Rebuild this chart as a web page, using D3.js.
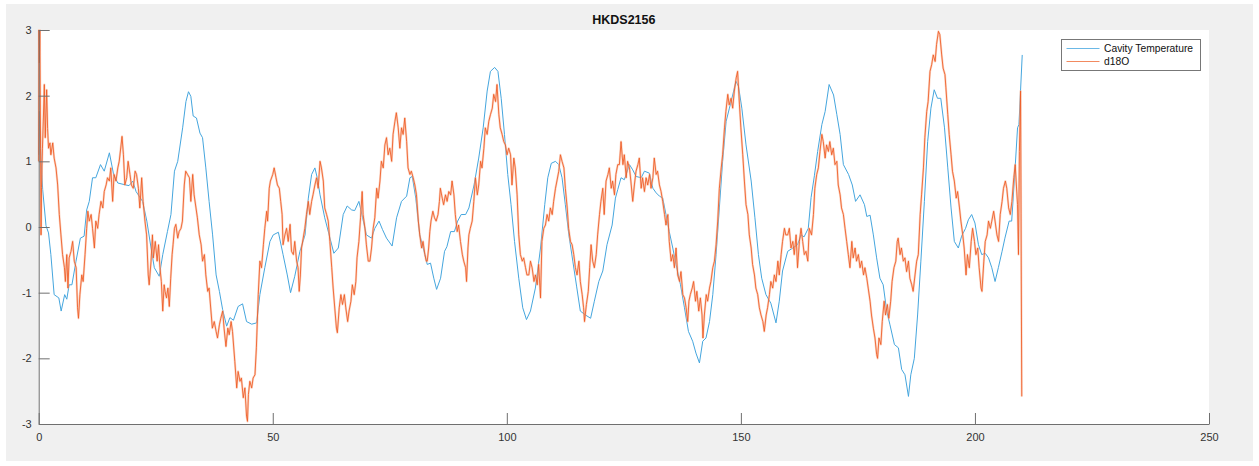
<!DOCTYPE html>
<html>
<head>
<meta charset="utf-8">
<script src="https://cdn.jsdelivr.net/npm/d3@7"></script>
<style>
body{margin:0;background:#fff;}
</style>
</head>
<body>
<script>
var width = 1259, height = 466;
var chartTitle = "HKDS2156";
var seriesNames = ["Cavity Temperature", "d18O"];
var xTicks = [0, 50, 100, 150, 200, 250];
var yTicks = [-3, -2, -1, 0, 1, 2, 3];

// [x, value]
var cavityTemp = [[0,1.1],[0.15,1.76],[0.4,1.2],[0.85,0.57],[1.56,0.02],[2.1,-0.09],[2.6,-0.42],[3.3,-1.03],[4.3,-1.08],[4.8,-1.28],[5.55,-1.03],[6.0,-1.1],[6.5,-0.88],[7.1,-0.88],[7.97,-0.52],[8.9,-0.17],[9.7,-0.14],[10.25,0.26],[10.8,0.39],[11.5,0.75],[12.2,0.75],[13.2,0.95],[14.0,0.85],[15.1,1.13],[16.0,0.8],[16.9,0.67],[18.6,0.64],[19.3,0.63],[20.1,0.7],[20.8,0.54],[22.2,0.39],[23.1,0.09],[24.0,-0.32],[24.7,-0.62],[25.75,-0.75],[26.5,-0.42],[27.5,-0.07],[28.25,0.19],[29.0,0.85],[29.7,1.0],[30.75,1.51],[31.45,1.91],[32.0,2.06],[32.5,1.99],[33.0,1.69],[33.7,1.66],[34.45,1.43],[35.0,1.36],[35.7,0.9],[36.4,0.39],[37.15,-0.12],[37.9,-0.73],[38.6,-0.98],[39.3,-1.26],[40.15,-1.51],[40.85,-1.38],[41.6,-1.42],[42.6,-1.21],[43.55,-1.17],[44.4,-1.44],[45.5,-1.48],[46.55,-1.46],[47.25,-1.03],[48.3,-0.62],[49.4,-0.22],[50.1,-0.12],[51.2,-0.08],[52.2,-0.42],[53.1,-0.73],[53.8,-1.0],[54.7,-0.75],[55.8,-0.37],[56.9,-0.12],[57.6,0.44],[58.3,0.8],[59.0,0.9],[59.5,0.75],[60.1,0.49],[61.1,0.14],[62.05,-0.12],[63.05,-0.4],[64.0,-0.32],[65.05,0.19],[65.9,0.32],[66.85,0.26],[67.5,0.25],[68.4,0.39],[69.2,0.14],[70.0,-0.12],[71.1,-0.17],[71.8,-0.02],[72.7,0.09],[73.45,-0.04],[74.3,-0.17],[75.5,-0.29],[76.45,0.14],[77.5,0.39],[78.6,0.47],[79.3,0.75],[79.8,0.77],[80.55,0.44],[81.4,-0.12],[82.5,-0.42],[83.0,-0.57],[83.7,-0.55],[84.4,-0.78],[85.0,-0.95],[85.85,-0.78],[86.7,-0.37],[87.2,-0.3],[88.0,-0.07],[88.8,-0.07],[89.5,0.09],[90.25,0.19],[91.2,0.19],[91.9,0.29],[93.0,0.64],[94.0,1.05],[94.95,1.51],[95.8,2.07],[96.5,2.37],[97.4,2.43],[98.1,2.37],[98.8,1.96],[99.5,1.41],[100.2,0.8],[100.9,0.34],[101.65,-0.22],[102.55,-0.78],[103.4,-1.23],[104.2,-1.41],[105.05,-1.28],[106.1,-0.93],[107.2,-0.32],[108.1,0.34],[108.75,0.75],[109.5,0.97],[110.4,1.0],[111.1,0.95],[111.8,0.75],[112.5,0.34],[113.25,-0.12],[114.1,-0.52],[114.9,-0.9],[115.7,-1.28],[116.8,-1.34],[117.9,-1.39],[118.7,-1.13],[119.65,-0.83],[120.5,-0.67],[121.4,-0.27],[122.5,0.03],[123.2,0.44],[123.7,0.57],[124.4,0.75],[125.1,0.72],[126.2,0.95],[126.9,0.87],[127.6,0.77],[128.7,0.75],[129.4,0.85],[130.45,0.82],[131.2,0.59],[131.9,0.52],[132.6,0.47],[133.3,0.44],[134.0,0.19],[134.7,-0.07],[135.45,-0.32],[136.15,-0.57],[137.1,-0.88],[137.95,-1.23],[138.8,-1.59],[139.7,-1.74],[140.4,-1.92],[141.15,-2.07],[141.85,-1.74],[142.55,-1.69],[143.3,-1.44],[144.0,-1.03],[144.7,-0.42],[145.4,0.29],[146.1,1.0],[146.85,1.61],[147.55,1.81],[148.25,2.01],[148.95,2.22],[149.5,2.14],[150.2,1.81],[151.1,1.25],[152.2,0.7],[153.0,0.14],[153.75,-0.42],[154.45,-0.78],[155.35,-1.03],[156.4,-1.16],[157.5,-1.46],[158.2,-1.13],[158.9,-0.67],[160.0,-0.37],[161.1,-0.32],[162.1,-0.27],[162.85,-0.12],[163.5,-0.15],[164.4,-0.02],[165.0,0.45],[165.7,0.78],[166.4,1.15],[167.3,1.56],[168.0,1.76],[168.85,2.17],[169.8,2.01],[170.5,1.71],[171.2,1.41],[171.9,0.95],[173.0,0.8],[173.8,0.64],[174.5,0.39],[175.45,0.49],[176.4,0.34],[176.9,0.16],[177.6,0.18],[178.3,-0.12],[179.0,-0.47],[179.7,-0.78],[180.4,-0.88],[181.15,-1.28],[181.85,-1.49],[182.8,-1.79],[183.65,-1.84],[184.35,-2.17],[185.05,-2.25],[185.8,-2.58],[186.3,-2.25],[187.05,-2.0],[187.75,-1.34],[188.45,-0.52],[189.2,0.39],[189.9,1.3],[190.6,1.81],[191.3,2.09],[192.0,1.96],[192.7,1.96],[193.5,1.51],[194.2,0.9],[194.9,0.29],[195.6,-0.22],[196.45,-0.32],[197.15,-0.14],[198.0,-0.02],[198.6,0.11],[199.3,0.19],[200.0,0.06],[200.75,-0.27],[201.45,-0.42],[202.2,-0.4],[202.9,-0.47],[203.6,-0.62],[204.3,-0.83],[205.0,-0.62],[205.8,-0.37],[206.4,-0.17],[207.3,0.09],[207.85,0.09],[208.5,0.8],[209.1,1.51],[209.4,1.56],[210.1,2.62]];

var d18O = [[0,1.0],[0.05,3.0],[0.15,2.5],[0.25,3.0],[0.4,1.2],[0.5,-0.12],[0.6,0.6],[0.8,1.2],[1.0,1.66],[1.2,2.17],[1.4,1.36],[1.7,2.09],[1.9,1.5],[2.1,1.2],[2.4,1.28],[2.6,1.1],[3.0,1.28],[3.3,1.05],[3.7,0.9],[4.05,0.64],[4.4,0.19],[4.75,-0.12],[5.1,-0.42],[5.5,-0.62],[5.7,-0.83],[6.0,-0.42],[6.25,-0.93],[6.5,-0.47],[6.9,-0.37],[7.25,-0.22],[7.6,-0.52],[8.0,-0.62],[8.3,-1.23],[8.5,-1.39],[8.8,-1.03],[9.2,-0.73],[9.5,-0.83],[9.9,-0.42],[10.25,-0.02],[10.5,0.24],[10.8,0.09],[11.2,0.19],[11.5,-0.02],[11.9,-0.32],[12.2,0.09],[12.6,-0.02],[12.9,0.19],[13.3,0.39],[13.7,0.29],[14.0,0.54],[14.4,0.64],[14.7,0.75],[15.1,0.7],[15.4,0.9],[15.8,0.39],[16.1,0.8],[16.5,0.7],[16.9,0.9],[17.2,1.0],[17.6,1.25],[17.8,1.38],[18.1,1.1],[18.4,0.64],[18.8,0.75],[19.1,1.0],[19.5,0.8],[19.8,0.64],[20.2,0.59],[20.6,0.85],[20.9,0.8],[21.3,0.59],[21.6,0.29],[22.0,0.75],[22.3,0.39],[22.7,0.09],[23.05,-0.12],[23.4,-0.73],[23.6,-0.88],[24.0,-0.52],[24.3,-0.12],[24.5,-0.47],[24.9,-0.22],[25.3,-0.52],[25.6,-0.27],[25.9,-0.62],[26.2,-0.83],[26.5,-1.28],[26.8,-0.88],[27.0,-0.98],[27.3,-1.08],[27.6,-0.93],[27.9,-1.21],[28.2,-0.78],[28.5,-0.42],[28.7,-0.27],[29.0,-0.02],[29.3,0.04],[29.7,-0.17],[30.0,-0.07],[30.4,-0.02],[30.7,0.09],[31.1,0.64],[31.4,0.85],[31.8,0.8],[32.2,0.75],[32.5,0.39],[32.9,0.8],[33.2,0.49],[33.6,0.29],[33.9,0.14],[34.3,-0.12],[34.7,-0.27],[35.0,-0.52],[35.4,-0.42],[35.7,-0.73],[36.1,-0.98],[36.4,-0.93],[36.8,-1.28],[37.1,-1.54],[37.5,-1.44],[37.9,-1.59],[38.2,-1.69],[38.6,-1.49],[38.9,-1.39],[39.3,-1.28],[39.6,-1.54],[40.0,-1.82],[40.4,-1.54],[40.7,-1.64],[41.1,-1.44],[41.4,-1.59],[41.9,-2.05],[42.3,-2.45],[42.6,-2.2],[43.0,-2.35],[43.3,-2.3],[43.7,-2.6],[44.05,-2.45],[44.4,-2.88],[44.6,-2.96],[44.8,-2.55],[45.1,-2.35],[45.5,-2.45],[45.8,-2.3],[46.2,-2.25],[46.5,-1.84],[46.9,-1.03],[47.25,-0.52],[47.6,-0.62],[48.0,-0.27],[48.3,-0.02],[48.7,0.24],[48.9,0.09],[49.25,0.59],[49.5,0.7],[50.0,0.8],[50.3,0.9],[50.7,0.75],[51.0,0.64],[51.4,0.59],[51.7,0.39],[52.0,0.19],[52.2,-0.27],[52.6,-0.12],[52.95,-0.02],[53.3,-0.22],[53.7,0.04],[54.0,-0.37],[54.4,-0.42],[54.7,-0.22],[55.1,-0.52],[55.4,-0.62],[55.65,-0.98],[55.9,-0.73],[56.15,-0.32],[56.5,-0.17],[56.85,-0.02],[57.2,0.19],[57.6,0.39],[57.9,0.19],[58.3,0.39],[58.6,0.49],[59.0,0.64],[59.35,0.75],[59.7,0.59],[60.1,1.0],[60.4,0.9],[60.8,0.7],[61.1,0.29],[61.5,0.19],[61.85,0.09],[62.2,-0.22],[62.6,-0.62],[62.9,-0.93],[63.3,-1.28],[63.6,-1.54],[63.8,-1.61],[64.2,-1.23],[64.55,-1.03],[64.9,-1.18],[65.3,-1.03],[65.6,-1.23],[66.0,-1.44],[66.3,-1.28],[66.7,-1.13],[67.0,-0.88],[67.4,-1.03],[67.75,-0.83],[68.0,-0.47],[68.4,-0.22],[68.75,0.14],[69.1,0.54],[69.3,0.19],[69.7,-0.02],[70.0,-0.27],[70.4,-0.52],[70.75,-0.52],[71.1,-0.32],[71.45,-0.02],[71.8,0.14],[72.2,0.59],[72.5,0.44],[72.9,0.7],[73.2,1.0],[73.6,0.9],[73.95,1.25],[74.3,1.36],[74.65,1.1],[75.0,1.2],[75.4,1.0],[75.7,1.41],[76.1,1.61],[76.4,1.74],[76.8,1.51],[77.15,1.2],[77.5,1.51],[77.85,1.41],[78.2,1.66],[78.6,1.3],[78.9,0.9],[79.3,0.8],[79.6,0.85],[80.0,0.75],[80.35,0.64],[80.7,0.49],[81.1,0.09],[81.4,-0.12],[81.8,-0.32],[82.1,-0.22],[82.5,-0.42],[82.8,-0.52],[83.0,-0.52],[83.3,-0.32],[83.55,-0.07],[83.8,0.09],[84.2,0.24],[84.55,0.14],[84.9,0.09],[85.3,0.19],[85.6,0.39],[85.8,0.59],[86.2,0.44],[86.5,0.34],[86.9,0.49],[87.25,0.39],[87.6,0.54],[88.0,0.49],[88.3,0.7],[88.7,0.49],[89.0,0.19],[89.4,-0.07],[89.7,0.03],[90.1,-0.22],[90.5,-0.42],[90.8,-0.52],[91.2,-0.62],[91.4,-0.83],[91.7,-0.32],[91.9,-0.12],[92.2,-0.02],[92.6,0.09],[92.95,0.39],[93.3,0.75],[93.7,0.49],[94.0,0.64],[94.4,1.0],[94.7,0.9],[95.1,1.2],[95.4,1.51],[95.8,1.41],[96.15,1.61],[96.5,1.71],[96.9,1.81],[97.2,2.02],[97.6,1.91],[97.9,2.17],[98.3,1.71],[98.6,1.51],[99.0,1.41],[99.35,1.3],[99.7,1.25],[100.05,1.1],[100.4,1.2],[100.8,1.1],[101.1,0.64],[101.5,1.05],[101.8,0.9],[102.2,0.49],[102.55,-0.12],[102.9,-0.42],[103.3,-0.52],[103.6,-0.47],[104.0,-0.62],[104.3,-0.73],[104.7,-0.73],[105.05,-0.52],[105.4,-0.62],[105.8,-0.83],[106.1,-0.73],[106.5,-0.88],[106.8,-0.57],[107.2,-1.08],[107.5,-0.22],[107.9,-0.02],[108.25,0.03],[108.6,0.19],[108.95,0.09],[109.3,0.29],[109.7,0.19],[110.0,0.39],[110.4,0.59],[110.7,0.7],[111.1,0.85],[111.45,1.1],[111.8,1.0],[112.2,0.9],[112.5,0.59],[112.9,0.29],[113.2,-0.02],[113.6,-0.22],[113.95,-0.27],[114.3,-0.42],[114.65,-0.62],[115.0,-0.73],[115.4,-0.52],[115.7,-0.83],[116.1,-1.03],[116.4,-1.23],[116.6,-1.44],[117.0,-1.18],[117.4,-0.98],[117.7,-0.62],[118.0,-0.27],[118.35,-0.52],[118.7,-0.62],[119.1,-0.42],[119.4,-0.12],[119.8,0.19],[120.1,0.39],[120.5,0.59],[120.8,0.19],[121.2,0.7],[121.6,0.8],[121.9,0.9],[122.3,0.59],[122.6,0.7],[123.0,0.49],[123.3,0.8],[123.7,0.95],[124.05,0.95],[124.4,1.3],[124.8,0.95],[125.1,1.1],[125.5,0.75],[125.8,1.0],[126.2,0.9],[126.5,0.7],[126.9,0.39],[127.25,0.64],[127.6,0.85],[128.0,0.95],[128.3,1.05],[128.7,0.59],[129.0,0.75],[129.4,0.54],[129.75,0.75],[130.1,0.64],[130.5,0.8],[130.8,0.59],[131.2,0.75],[131.5,1.05],[131.9,0.8],[132.2,0.85],[132.6,0.64],[132.95,0.54],[133.3,0.39],[133.7,0.19],[134.0,0.03],[134.4,0.19],[134.7,-0.22],[135.1,-0.52],[135.45,-0.42],[135.8,-0.62],[136.15,-0.32],[136.5,-0.73],[136.9,-0.83],[137.2,-0.68],[137.6,-1.03],[137.95,-1.08],[138.3,-1.23],[138.65,-1.44],[138.9,-1.13],[139.2,-1.03],[139.6,-0.93],[139.9,-0.83],[140.3,-1.13],[140.6,-0.98],[141.0,-1.28],[141.35,-1.08],[141.7,-1.34],[141.9,-1.69],[142.2,-1.34],[142.6,-1.03],[142.9,-1.13],[143.3,-0.93],[143.6,-0.83],[144.0,-0.62],[144.35,-0.52],[144.7,-0.27],[145.05,0.09],[145.4,0.59],[145.8,0.9],[146.1,1.1],[146.5,1.51],[146.8,1.76],[147.2,2.02],[147.5,1.86],[147.9,1.96],[148.25,1.81],[148.6,2.07],[149.0,2.27],[149.3,2.37],[149.7,1.86],[150.0,1.51],[150.4,1.1],[150.75,0.7],[151.1,0.34],[151.5,0.19],[151.8,-0.12],[152.2,-0.32],[152.5,-0.57],[152.9,-0.73],[153.2,-0.93],[153.6,-1.03],[153.95,-1.23],[154.3,-1.34],[154.7,-1.44],[155.0,-1.59],[155.4,-1.34],[155.7,-1.23],[156.1,-1.03],[156.4,-0.83],[156.8,-0.93],[157.15,-0.73],[157.5,-0.83],[157.9,-0.52],[158.2,-0.73],[158.6,-0.42],[158.9,-0.22],[159.3,-0.02],[159.6,-0.12],[160.0,-0.12],[160.35,-0.02],[160.7,-0.32],[161.1,-0.22],[161.4,-0.42],[161.8,-0.12],[162.1,-0.62],[162.5,-0.22],[162.85,-0.02],[163.2,-0.22],[163.55,-0.42],[163.9,-0.37],[164.3,-0.52],[164.6,-0.02],[165.1,-0.12],[165.5,0.19],[165.8,0.59],[166.2,0.8],[166.55,0.9],[166.9,1.15],[167.3,1.41],[167.6,1.3],[168.0,1.05],[168.3,1.25],[168.7,1.15],[169.0,1.3],[169.4,1.1],[169.75,1.2],[170.1,0.95],[170.5,1.0],[170.8,0.64],[171.2,0.49],[171.5,0.29],[171.9,0.19],[172.25,-0.02],[172.6,-0.22],[172.95,-0.42],[173.3,-0.62],[173.7,-0.22],[174.0,-0.47],[174.4,-0.32],[174.7,-0.52],[175.1,-0.42],[175.45,-0.62],[175.8,-0.52],[176.2,-0.73],[176.5,-0.62],[176.9,-0.78],[177.2,-0.93],[177.6,-1.13],[177.9,-1.34],[178.3,-1.54],[178.65,-1.69],[179.0,-1.94],[179.2,-2.0],[179.5,-1.69],[179.9,-1.79],[180.2,-1.44],[180.6,-1.13],[180.9,-1.34],[181.3,-1.18],[181.6,-1.39],[182.0,-1.13],[182.3,-0.83],[182.7,-0.62],[183.1,-0.52],[183.4,-0.22],[183.6,-0.17],[184.0,-0.42],[184.3,-0.32],[184.7,-0.52],[185.05,-0.47],[185.4,-0.68],[185.8,-0.52],[186.1,-0.78],[186.5,-0.88],[186.8,-0.98],[187.2,-0.73],[187.55,-0.52],[187.9,-0.42],[188.3,0.19],[188.6,0.49],[189.0,0.9],[189.3,1.36],[189.7,1.76],[190.0,1.91],[190.4,2.37],[190.75,2.47],[191.1,2.62],[191.5,2.52],[191.8,2.78],[192.2,2.98],[192.5,2.93],[192.9,2.62],[193.2,2.42],[193.6,2.32],[193.8,2.12],[194.2,1.71],[194.5,1.41],[194.9,1.1],[195.2,0.85],[195.6,0.7],[196.0,0.44],[196.3,0.54],[196.7,0.29],[197.0,0.09],[197.4,-0.12],[197.7,-0.32],[198.1,-0.73],[198.4,-0.42],[198.8,-0.62],[199.2,-0.22],[199.5,-0.02],[199.9,-0.22],[200.2,-0.42],[200.6,-0.32],[200.9,-0.62],[201.3,-0.93],[201.5,-0.98],[201.9,-0.52],[202.2,-0.22],[202.6,-0.12],[202.9,0.09],[203.3,-0.02],[203.6,0.09],[204.0,0.24],[204.3,0.09],[204.7,-0.12],[205.05,-0.22],[205.4,0.19],[205.8,0.39],[206.1,0.59],[206.5,0.7],[206.8,0.59],[207.2,0.29],[207.55,0.19],[207.9,0.39],[208.3,0.75],[208.6,0.95],[208.8,0.7],[209.1,0.34],[209.3,-0.42],[209.5,1.15],[209.75,2.07],[209.85,0.2],[210.0,-2.58]];

var font = "'Liberation Sans', Arial, Helvetica, sans-serif";

var svg = d3.select("body").append("svg").attr("width", width).attr("height", height);

// figure background
svg.append("rect").attr("x", 6).attr("y", 4).attr("width", 1247).attr("height", 457).attr("fill", "#f0f0f0");

var x = d3.scaleLinear().domain([0, 250]).range([38.7, 1209]);
var y = d3.scaleLinear().domain([-3, 3]).range([424, 30]);

// axes area
svg.append("rect")
    .attr("x", x(0)).attr("y", y(3))
    .attr("width", x(250) - x(0)).attr("height", y(-3) - y(3))
    .attr("fill", "#fff");

var line = d3.line().x(function(d){return x(d[0]);}).y(function(d){return y(d[1]);});

svg.append("path").datum(cavityTemp)
    .attr("d", line)
    .attr("fill", "none")
    .attr("stroke", "#45a6de")
    .attr("stroke-width", 1);

// d18O: faint halo under the line, like the dense noise band in the original
svg.append("path").datum(d18O)
    .attr("d", line)
    .attr("fill", "none")
    .attr("stroke", "#f8b294")
    .attr("stroke-opacity", 0.55)
    .attr("stroke-width", 2.2)
    .attr("stroke-linejoin", "round");
svg.append("path").datum(d18O)
    .attr("d", line)
    .attr("fill", "none")
    .attr("stroke", "#ee5a22")
    .attr("stroke-width", 0.85)
    .attr("stroke-linejoin", "round");

// axes
var tickFmt = function(d){return String(d);};
var xAxis = svg.append("g")
    .attr("transform", "translate(0," + y(-3) + ")")
    .call(d3.axisBottom(x).tickValues(xTicks).tickFormat(tickFmt).tickSizeInner(-11).tickSizeOuter(0).tickPadding(9));
var yAxis = svg.append("g")
    .attr("transform", "translate(" + x(0) + ",0)")
    .call(d3.axisLeft(y).tickValues(yTicks).tickFormat(tickFmt).tickSizeInner(-11).tickSizeOuter(0).tickPadding(7));

[xAxis, yAxis].forEach(function(g){
    g.selectAll(".domain").attr("stroke", "#6f6f6f");
    g.selectAll(".tick line").attr("stroke", "#6f6f6f");
    g.selectAll(".tick text").attr("fill", "#333").attr("font-size", 11).attr("font-family", font);
});

// title
svg.append("text")
    .attr("x", (x(0) + x(250)) / 2).attr("y", 24)
    .attr("text-anchor", "middle")
    .attr("font-family", font).attr("font-size", 12.5).attr("font-weight", "bold")
    .attr("fill", "#111")
    .text(chartTitle);

// legend
var legend = svg.append("g").attr("transform", "translate(1061.5,39.5)");
legend.append("rect").attr("width", 139).attr("height", 31)
    .attr("fill", "#fff").attr("stroke", "#777").attr("stroke-width", 1);
var legendColors = ["#6bb8e6", "#f28a60"];
legend.selectAll("line.key")
    .data(seriesNames)
    .enter().append("line")
        .attr("class", "key")
        .attr("x1", 5).attr("x2", 38)
        .attr("y1", function(d,i){return 9 + i*13;})
        .attr("y2", function(d,i){return 9 + i*13;})
        .attr("stroke", function(d,i){return legendColors[i];})
        .attr("stroke-width", 1);
legend.selectAll("text")
    .data(seriesNames)
    .enter().append("text")
        .attr("x", 42.5)
        .attr("y", function(d,i){return 9 + i*13;})
        .attr("dy", "0.35em")
        .attr("font-family", font).attr("font-size", 10.3)
        .attr("fill", "#111")
        .text(function(d){return d;});
</script>
</body>
</html>
